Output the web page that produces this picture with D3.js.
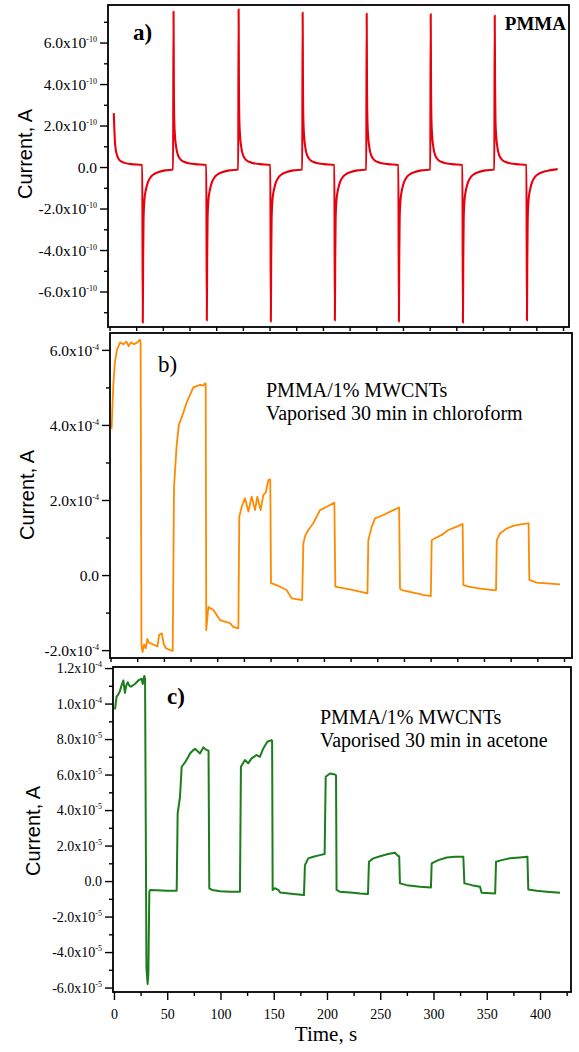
<!DOCTYPE html>
<html><head><meta charset="utf-8">
<script src="https://cdn.jsdelivr.net/npm/d3@7"></script>
<style>body{margin:0;background:#fff}svg{display:block}</style>
</head><body>
<script>
// ---------------- DATA ----------------
// Panel a: PMMA, time (s), current in units of 1e-10 A
const pmmaSeries = [
 [4,2.6],[4.5,1.9],[5,1.3],[6,0.8],[7.5,0.5],[10,0.3],[14,0.2],[20,0.14],[30.7,0.1],
 [31.2,-7.5],[31.5,-4.5],[31.9,-2.5],[32.7,-1.6],[33.7,-1.2],[34.7,-0.96],[36.2,-0.7],[38.7,-0.48],[42.2,-0.33],[46.2,-0.24],[52.2,-0.16],[59.6,-0.12],
 [60,7.5],[60.3,4.0],[60.7,2.2],[61.5,1.4],[62.5,0.95],[64,0.6],[66,0.4],[69,0.27],[73,0.2],[80,0.14],[90.7,0.1],
 [91.2,-7.4],[91.5,-4.5],[91.9,-2.5],[92.7,-1.6],[93.7,-1.2],[94.7,-0.96],[96.2,-0.7],[98.7,-0.48],[102.2,-0.33],[106.2,-0.24],[112.2,-0.16],[120.6,-0.12],
 [121,7.6],[121.3,4.0],[121.7,2.2],[122.5,1.4],[123.5,0.95],[125,0.6],[127,0.4],[130,0.27],[134,0.2],[141,0.14],[150.7,0.1],
 [151.2,-7.45],[151.5,-4.5],[151.9,-2.5],[152.7,-1.6],[153.7,-1.2],[154.7,-0.96],[156.2,-0.7],[158.7,-0.48],[162.2,-0.33],[166.2,-0.24],[172.2,-0.16],[180.6,-0.12],
 [181,7.45],[181.3,4.0],[181.7,2.2],[182.5,1.4],[183.5,0.95],[185,0.6],[187,0.4],[190,0.27],[194,0.2],[201,0.14],[210.7,0.1],
 [211.2,-7.4],[211.5,-4.5],[211.9,-2.5],[212.7,-1.6],[213.7,-1.2],[214.7,-0.96],[216.2,-0.7],[218.7,-0.48],[222.2,-0.33],[226.2,-0.24],[232.2,-0.16],[240.6,-0.12],
 [241,7.4],[241.3,4.0],[241.7,2.2],[242.5,1.4],[243.5,0.95],[245,0.6],[247,0.4],[250,0.27],[254,0.2],[261,0.14],[270.7,0.1],
 [271.2,-7.45],[271.5,-4.5],[271.9,-2.5],[272.7,-1.6],[273.7,-1.2],[274.7,-0.96],[276.2,-0.7],[278.7,-0.48],[282.2,-0.33],[286.2,-0.24],[292.2,-0.16],[300.6,-0.12],
 [301,7.37],[301.3,4.0],[301.7,2.2],[302.5,1.4],[303.5,0.95],[305,0.6],[307,0.4],[310,0.27],[314,0.2],[321,0.14],[330.7,0.1],
 [331.2,-7.5],[331.5,-4.5],[331.9,-2.5],[332.7,-1.6],[333.7,-1.2],[334.7,-0.96],[336.2,-0.7],[338.7,-0.48],[342.2,-0.33],[346.2,-0.24],[352.2,-0.16],[360.6,-0.12],
 [361,7.3],[361.3,4.0],[361.7,2.2],[362.5,1.4],[363.5,0.95],[365,0.6],[367,0.4],[370,0.27],[374,0.2],[381,0.14],[390.7,0.1],
 [391.2,-7.4],[391.5,-4.5],[391.9,-2.5],[392.7,-1.6],[393.7,-1.2],[394.7,-0.96],[396.2,-0.7],[398.7,-0.48],[402.2,-0.33],[406.2,-0.24],[412.2,-0.16],[420,-0.1]
];
// Panel b: chloroform, current in units of 1e-4 A
const chloroformSeries = [
 [1,3.9],[2.5,5.0],[4,5.65],[6,6.0],[9,6.2],[12,6.15],[15,6.22],[17,6.1],[19,6.2],[22,6.15],[25,6.2],[27.6,6.27],[28.2,6.2],
 [29,-1.87],[30,-2.05],[31.5,-1.85],[33,-1.95],[34.5,-1.7],[36,-1.8],[40,-1.85],[44,-1.9],[45.5,-1.6],[48,-1.55],[50,-1.85],[52,-1.95],[56,-2.0],[58.3,-2.02],
 [59.5,2.35],[62,3.47],[64,4.0],[66.7,4.2],[71.4,4.6],[77.6,5.0],[84,5.07],[87,5.05],[88.6,5.11],[89.2,5.1],
 [89.7,-1.47],[91.7,-0.85],[96.4,-0.93],[102.6,-1.2],[108,-1.25],[112,-1.28],[115,-1.38],[119.8,-1.42],
 [120.7,1.56],[123,1.82],[126,2.05],[129.2,1.69],[132.3,2.09],[135.4,1.73],[137.6,2.09],[140.7,1.73],[143.2,2.13],[145.5,2.2],[147.9,2.53],[149.7,2.55],
 [150.4,-0.22],[152,-0.23],[158.9,-0.31],[165,-0.4],[169.8,-0.62],[179.6,-0.67],
 [180.7,0.84],[182.5,1.05],[185.4,1.2],[190,1.38],[196.3,1.73],[202.6,1.82],[209.8,1.93],
 [210.7,-0.31],[214,-0.33],[227.6,-0.4],[233.8,-0.44],[240.8,-0.49],
 [241.6,0.93],[244.8,1.29],[247.9,1.51],[255.7,1.6],[265,1.73],[270.5,1.8],
 [271.3,-0.36],[273,-0.4],[287,-0.49],[293.2,-0.53],[300.2,-0.56],
 [301,0.93],[304,0.98],[310.4,1.07],[316.6,1.2],[324.5,1.29],[330,1.36],
 [330.7,-0.27],[335.5,-0.31],[346.3,-0.36],[358.8,-0.4],[361.3,-0.4],
 [362,0.93],[365,1.11],[371.3,1.24],[377.5,1.31],[385.4,1.36],[391.8,1.38],
 [392.5,-0.13],[399.4,-0.2],[408.8,-0.22],[421.3,-0.25]
];
// Panel c: acetone, current in units of 1e-5 A
const acetoneSeries = [
 [1,9.67],[2.5,10.4],[4,10.5],[5.6,10.7],[7,11.0],[8.8,11.3],[10.3,10.6],[11.5,11.0],[12.9,11.2],[14.5,11.0],[16,10.95],[19.7,11.1],[22.8,11.3],[26,11.4],[27,11.1],[28.5,11.55],[29.2,11.4],
 [30.5,-4.9],[31.6,-5.8],[32.3,-5.2],[33.2,-0.6],[34,-0.5],[40,-0.52],[50,-0.55],[58.9,-0.55],
 [59.8,3.8],[62,4.75],[63.6,6.44],[66.7,6.68],[69.8,7.0],[71.4,7.19],[74.5,7.38],[76,7.45],[79.2,7.28],[80.7,7.19],[83.9,7.53],[87,7.38],[88.8,7.35],
 [89.5,-0.41],[92,-0.5],[100,-0.58],[108.9,-0.6],[118.3,-0.6],
 [119.2,6.44],[123,6.82],[126,6.63],[129.2,6.91],[133.9,7.1],[137,7.0],[140.2,7.47],[144,7.85],[148,7.94],[148.5,7.9],
 [149,-0.5],[151,-0.4],[154.3,-0.5],[156,-0.64],[168.4,-0.73],[178.4,-0.79],
 [179.3,0.9],[182.4,1.28],[187.1,1.37],[193.4,1.46],[197.8,1.52],
 [198.8,5.88],[202.8,6.06],[207.5,6.0],[208.5,5.95],
 [209,-0.5],[212,-0.6],[224.7,-0.66],[231,-0.7],[238.5,-0.73],
 [239.4,1.09],[243.5,1.28],[249.8,1.4],[257.4,1.52],[263.8,1.6],[266.9,1.41],[267.8,1.4],
 [268.5,-0.13],[274.8,-0.23],[287.3,-0.32],[297.6,-0.36],
 [298.3,1.0],[304.5,1.18],[312.4,1.33],[320.2,1.37],[328,1.37],
 [329,-0.13],[335.9,-0.23],[343.7,-0.32],[345.2,-0.66],[357.9,-0.7],
 [358.7,1.09],[364,1.18],[371.8,1.28],[381.2,1.33],[388.2,1.37],
 [389,-0.47],[396.9,-0.55],[406.3,-0.6],[418.8,-0.66]
];

const yTicksA = [-6,-4,-2,0,2,4,6];
const yLabelsA = ["-6.0x10^-10","-4.0x10^-10","-2.0x10^-10","0.0","2.0x10^-10","4.0x10^-10","6.0x10^-10"];
const yTicksB = [-2,0,2,4,6];
const yLabelsB = ["-2.0x10^-4","0.0","2.0x10^-4","4.0x10^-4","6.0x10^-4"];
const yTicksC = [-6,-4,-2,0,2,4,6,8,10,12];
const yLabelsC = ["-6.0x10^-5","-4.0x10^-5","-2.0x10^-5","0.0","2.0x10^-5","4.0x10^-5","6.0x10^-5","8.0x10^-5","1.0x10^-4","1.2x10^-4"];
const xTicks = [0,50,100,150,200,250,300,350,400];
const xLabels = ["0","50","100","150","200","250","300","350","400"];
const panelTags = ["a)","b)","c)"];
const yTitle = "Current, A";
const xTitle = "Time, s";
const notesA = ["PMMA"];
const notesB = ["PMMA/1% MWCNTs","Vaporised 30 min in chloroform"];
const notesC = ["PMMA/1% MWCNTs","Vaporised 30 min in acetone"];

// ---------------- LAYOUT ----------------
const W = 579, H = 1052;
const SERIF = "'Liberation Serif','Times New Roman',serif";
const SANS = "'Liberation Sans',Arial,sans-serif";
const svg = d3.select("body").append("svg").attr("width", W).attr("height", H);

const panels = [
 {data: pmmaSeries, ticks: yTicksA, labels: yLabelsA, left:108, right:569, top:5, bottom:327,
  xDom:[-1.4,430.6], yDom:[-7.71,7.81], color:"#e8000c", width:2.1, curve:d3.curveMonotoneX,
  tickFont:15.5, titleX:25, titleY:154, tag:panelTags[0], tagX:133, tagY:40, tagBold:true,
  notes:notesA, noteX:566, noteY:30, noteAnchor:"end", noteSize:19, noteBold:true, xLabels:false},
 {data: chloroformSeries, ticks: yTicksB, labels: yLabelsB, left:110, right:572, top:333, bottom:658,
  xDom:[-0.5,432.5], yDom:[-2.21,6.45], color:"#ff8a00", width:1.8, curve:d3.curveLinear,
  tickFont:15.5, titleX:27, titleY:495, tag:panelTags[1], tagX:158, tagY:372, tagBold:false,
  notes:notesB, noteX:266, noteY:397, noteAnchor:"start", noteSize:20, noteBold:false, xLabels:false},
 {data: acetoneSeries, ticks: yTicksC, labels: yLabelsC, left:113, right:571, top:667, bottom:992,
  xDom:[-0.9,429.1], yDom:[-6.25,12.06], color:"#1b7d1b", width:2, curve:d3.curveLinear,
  tickFont:14, titleX:33, titleY:831, tag:panelTags[2], tagX:167, tagY:704, tagBold:true,
  notes:notesC, noteX:320, noteY:724, noteAnchor:"start", noteSize:20, noteBold:false, xLabels:true}
];

panels.forEach(p => {
  const x = d3.scaleLinear().domain(p.xDom).range([p.left, p.right]);
  const y = d3.scaleLinear().domain(p.yDom).range([p.bottom, p.top]);
  const g = svg.append("g");

  // line
  g.append("path").datum(p.data)
    .attr("fill","none").attr("stroke",p.color).attr("stroke-width",p.width)
    .attr("stroke-linejoin","round")
    .attr("d", d3.line().x(d=>x(d[0])).y(d=>y(d[1])).curve(p.curve));

  // y minor ticks
  const minor = d3.range(Math.ceil(p.yDom[0]), Math.floor(p.yDom[1])+1, 1).filter(v => !p.ticks.includes(v));
  g.append("g").attr("transform",`translate(${p.left},0)`)
    .call(d3.axisLeft(y).tickValues(minor).tickSize(4).tickFormat(""))
    .call(s => s.select(".domain").remove())
    .selectAll("line").attr("stroke","#000").attr("stroke-width",1.4);
  // y major ticks
  const ya = g.append("g").attr("transform",`translate(${p.left},0)`)
    .call(d3.axisLeft(y).tickValues(p.ticks).tickSize(8).tickFormat(""))
    .call(s => s.select(".domain").remove());
  ya.selectAll("line").attr("stroke","#000").attr("stroke-width",1.4);
  ya.selectAll(".tick").each(function(d){
    const i = p.ticks.indexOf(d);
    const parts = p.labels[i].split("^");
    const t = d3.select(this).append("text")
      .attr("x",-11).attr("y",0).attr("dy","0.35em")
      .attr("text-anchor","end").attr("fill","#000")
      .style("font-family",SERIF).style("font-size",p.tickFont+"px");
    t.append("tspan").text(parts[0]);
    if (parts[1]) t.append("tspan").attr("dy",-6).style("font-size","8px").text(parts[1]);
  });

  // x ticks
  const xMinor = d3.range(25, 430, 50);
  if (p.xLabels) {
    g.append("g").attr("transform",`translate(0,${p.bottom})`)
      .call(d3.axisBottom(x).tickValues(xMinor).tickSize(4).tickFormat(""))
      .call(s => s.select(".domain").remove())
      .selectAll("line").attr("stroke","#000").attr("stroke-width",1.4);
    const xa = g.append("g").attr("transform",`translate(0,${p.bottom})`)
      .call(d3.axisBottom(x).tickValues(xTicks).tickSize(8).tickPadding(9).tickFormat((d,i)=>xLabels[i]))
      .call(s => s.select(".domain").remove());
    xa.selectAll("line").attr("stroke","#000").attr("stroke-width",1.4);
    xa.selectAll("text").attr("fill","#000").style("font-family",SERIF).style("font-size","14px");
  } else {
    g.append("g").attr("transform",`translate(0,${p.bottom})`)
      .call(d3.axisBottom(x).tickValues(xTicks.concat(xMinor)).tickSize(4).tickFormat(""))
      .call(s => s.select(".domain").remove())
      .selectAll("line").attr("stroke","#000").attr("stroke-width",1.4);
  }

  // frame
  g.append("rect").attr("x",p.left).attr("y",p.top)
    .attr("width",p.right-p.left).attr("height",p.bottom-p.top)
    .attr("fill","none").attr("stroke","#000").attr("stroke-width",1.8);

  // y title
  svg.append("text").attr("transform",`translate(${p.titleX},${p.titleY}) rotate(-90)`)
    .attr("dy","0.35em").attr("text-anchor","middle")
    .style("font-family",SANS).style("font-size","20px").text(yTitle);

  // panel tag
  svg.append("text").attr("x",p.tagX).attr("y",p.tagY)
    .style("font-family",SERIF).style("font-size","23px")
    .style("font-weight",p.tagBold?"bold":"normal").text(p.tag);

  // annotations
  p.notes.forEach((n,i) => {
    svg.append("text").attr("x",p.noteX).attr("y",p.noteY + i*23)
      .attr("text-anchor",p.noteAnchor)
      .style("font-family",SERIF).style("font-size",p.noteSize+"px")
      .style("font-weight",p.noteBold?"bold":"normal").text(n);
  });
});

svg.append("text").attr("x",326).attr("y",1041).attr("text-anchor","middle")
  .style("font-family",SERIF).style("font-size","21px").text(xTitle);
</script>
</body></html>
